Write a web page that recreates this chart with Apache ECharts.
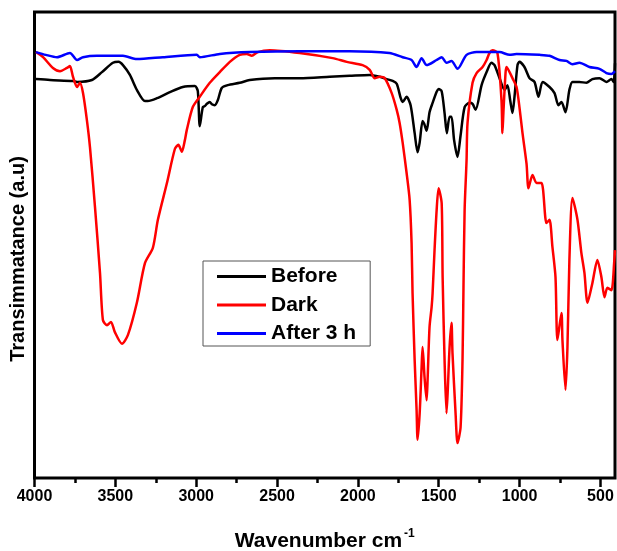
<!DOCTYPE html>
<html>
<head>
<meta charset="utf-8">
<script src="https://cdn.jsdelivr.net/npm/echarts@6/dist/echarts.min.js"></script>
<style>
  html, body { margin: 0; padding: 0; background: #fff; }
  #chart { width: 617px; height: 551px; }
</style>
</head>
<body>
<div id="chart"></div>
<script>
// FTIR spectra: wavenumber (cm-1) against transmittance (a.u.)
const seriesNames = ['Before', 'Dark', 'After 3 h'];

const beforeWn = [3991,3904,3762,3737,3645,3583,3515,3480,3453,3410,3367,3317,3300,3243,3163,3083,3008,2990,2978,2959,2947,2934,2916,2903,2885,2866,2842,2805,2731,2669,2514,2360,2174,2051,1927,1865,1822,1785,1760,1735,1723,1699,1674,1649,1631,1618,1600,1590,1575,1557,1538,1513,1501,1482,1464,1450,1433,1421,1405,1384,1365,1340,1310,1291,1272,1235,1204,1174,1155,1124,1093,1075,1058,1044,1031,1013,1001,970,939,908,883,858,815,784,760,741,716,692,673,630,587,550,506,463,432,418,410];
const beforeT = [85.6,85.4,85.2,85.0,85.4,87.1,89.1,89.3,88.6,86.5,83.3,80.9,80.9,81.5,82.8,83.9,84.1,83.0,75.5,79.6,79.8,80.3,80.7,80.2,80.0,81.1,83.7,84.3,84.8,85.4,85.8,85.8,86.1,86.3,86.5,86.1,85.6,85.2,84.6,81.5,80.7,81.8,80.0,74.0,69.9,72.0,76.6,76.0,74.5,78.5,80.5,82.9,83.5,83.0,78.3,74.0,77.5,77.5,72.5,68.9,73.5,79.6,80.5,80.3,79.0,84.3,87.1,89.1,88.6,85.8,83.3,84.3,81.0,78.3,82.0,88.6,89.3,88.2,85.8,85.0,81.8,85.0,83.9,82.6,80.0,80.7,78.5,83.3,85.0,85.0,84.8,85.6,85.8,85.0,85.6,85.0,89.0];

const darkWn = [3991,3947,3886,3842,3799,3781,3762,3737,3719,3700,3676,3657,3626,3595,3577,3552,3527,3503,3459,3422,3367,3317,3268,3237,3181,3132,3110,3089,3070,3058,3021,2978,2916,2854,2792,2731,2687,2656,2619,2545,2360,2156,2069,1971,1927,1896,1865,1834,1791,1760,1742,1723,1699,1680,1668,1662,1649,1637,1631,1618,1606,1600,1588,1575,1569,1557,1544,1538,1526,1513,1501,1482,1476,1464,1452,1445,1433,1421,1415,1396,1384,1365,1353,1347,1340,1328,1322,1291,1266,1229,1204,1186,1167,1137,1112,1106,1100,1087,1081,1062,1044,1019,1001,982,957,945,920,895,864,834,815,797,778,766,741,735,716,704,692,673,642,618,599,580,550,519,494,475,457,432,414,410];
const darkT = [91.4,90.3,88.0,87.3,88.0,88.4,86.1,83.9,84.8,82.6,76.8,71.0,58.2,44.0,33.9,32.8,33.5,31.3,28.8,30.7,37.6,46.1,49.4,55.4,63.3,70.6,71.5,70.0,72.5,74.7,79.6,81.8,84.8,87.1,89.3,90.8,91.0,90.6,91.4,91.8,91.2,90.1,89.3,88.6,87.6,85.8,86.1,85.8,82.6,79.0,76.2,71.9,65.5,59.7,50.4,39.7,25.3,14.6,8.2,13.9,23.8,28.1,21.7,16.7,21.0,32.4,36.7,39.7,48.9,57.5,62.2,59.0,43.1,25.3,13.9,18.2,28.1,33.3,26.8,13.9,7.5,10.9,25.3,41.0,57.5,68.2,76.2,84.8,86.9,88.2,89.7,91.2,91.8,91.2,81.1,74.0,78.5,86.9,88.2,87.1,85.8,83.9,79.6,74.0,67.4,62.2,65.0,63.3,63.3,54.7,55.4,49.6,43.1,29.6,35.4,29.6,18.9,28.1,46.8,60.1,55.4,48.3,44.0,37.6,41.8,46.8,43.1,38.8,40.8,40.3,46.8,48.9];

const afterWn = [3991,3930,3861,3781,3737,3700,3614,3453,3367,3206,2996,2978,2854,2669,2360,2051,1805,1723,1668,1637,1606,1575,1513,1482,1452,1421,1384,1328,1266,1124,1062,1019,877,815,753,710,673,630,568,506,463,432,410];
const afterT = [91.4,90.8,90.3,91.2,89.7,90.3,90.6,90.6,89.9,90.3,90.8,90.3,91.0,91.4,91.6,91.6,91.2,90.3,89.7,88.2,90.1,88.6,89.7,90.3,89.1,89.5,87.8,90.8,91.4,91.4,90.8,91.0,90.8,90.6,89.7,89.5,88.8,89.1,88.2,87.8,86.9,86.7,87.3];

const majorTicks = [500, 1000, 1500, 2000, 2500, 3000, 3500, 4000];
const minorTicks = [750, 1250, 1750, 2250, 2750, 3250, 3750];

const FONT = '"Liberation Sans", Arial, sans-serif';
const zip = (xs, ys) => xs.map((x, i) => [x, ys[i]]);

const chart = echarts.init(document.getElementById('chart'), null, { renderer: 'canvas' });

const lineSeries = (name, xs, ys, color) => ({
  name: name,
  type: 'line',
  xAxisIndex: 0,
  data: zip(xs, ys),
  showSymbol: false,
  symbol: 'none',
  smooth: 0.25,
  lineStyle: { color: color, width: 2.5 },
  itemStyle: { color: color },
  z: 3
});

chart.setOption({
  animation: false,
  backgroundColor: '#fff',
  grid: {
    left: 34.5, right: 2, top: 12, bottom: 73,
    containLabel: false,
    outerBoundsMode: 'none',
    show: true, borderColor: '#000', borderWidth: 3, backgroundColor: 'transparent'
  },
  legend: {
    orient: 'vertical',
    left: 203, top: 261,
    data: seriesNames,
    icon: 'rect',
    itemWidth: 49, itemHeight: 3,
    itemGap: 7.5,
    padding: [5, 14, 2, 14],
    borderColor: '#555', borderWidth: 1,
    textStyle: { fontFamily: FONT, fontWeight: 'bold', fontSize: 21, lineHeight: 20, color: '#000' }
  },
  xAxis: [
    {
      type: 'value', inverse: true, min: 410, max: 4000,
      position: 'bottom',
      axisLine: { show: false },
      splitLine: { show: false },
      axisTick: { show: true, customValues: majorTicks, length: 9, lineStyle: { color: '#000', width: 2.5 } },
      axisLabel: {
        customValues: majorTicks, margin: 11,
        formatter: (v) => String(v),
        fontFamily: FONT, fontWeight: 'bold', fontSize: 16, color: '#000'
      },
      name: '{t|Wavenumber cm}{s|-1}',
      nameLocation: 'middle',
      nameGap: 50,
      nameTextStyle: {
        rich: {
          t: { fontFamily: FONT, fontWeight: 'bold', fontSize: 21, color: '#000' },
          s: { fontFamily: FONT, fontWeight: 'bold', fontSize: 12, color: '#000', padding: [0, 0, 14, 2] }
        }
      }
    },
    {
      type: 'value', inverse: true, min: 410, max: 4000,
      position: 'bottom',
      axisLine: { show: false },
      splitLine: { show: false },
      axisLabel: { show: false },
      axisTick: { show: true, customValues: minorTicks, length: 5, lineStyle: { color: '#000', width: 2.5 } }
    }
  ],
  yAxis: {
    type: 'value', min: 0, max: 100,
    axisLine: { show: false },
    axisTick: { show: false },
    axisLabel: { show: false },
    splitLine: { show: false },
    name: 'Transimmatance (a.u)',
    nameLocation: 'middle',
    nameGap: 6,
    nameTextStyle: {
      fontFamily: FONT, fontWeight: 'bold', fontSize: 20, color: '#000',
      padding: [0, 28, 0, 0]
    }
  },
  series: [
    lineSeries(seriesNames[0], beforeWn, beforeT, '#000000'),
    lineSeries(seriesNames[1], darkWn, darkT, '#ff0000'),
    lineSeries(seriesNames[2], afterWn, afterT, '#0000ff')
  ]
});
</script>
</body>
</html>
